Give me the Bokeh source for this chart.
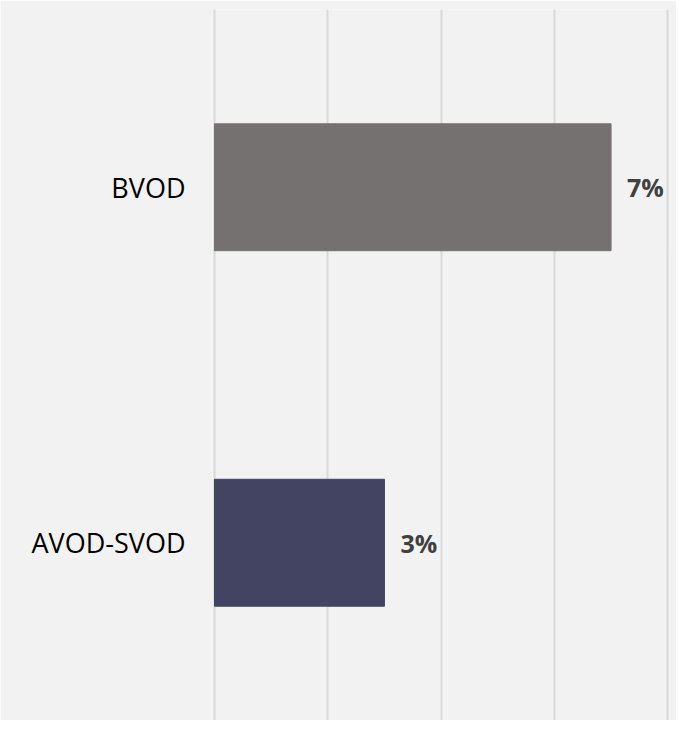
from bokeh.plotting import figure
from bokeh.models import Range1d, FactorRange, ColumnDataSource, FixedTicker
from bokeh.core.properties import value
from bokeh.embed import file_html
from bokeh.resources import INLINE

categories = ["AVOD-SVOD", "BVOD"]
values = [3, 7]
colors = ["#424461", "#767171"]
labels = [f"{v}%" for v in values]
grid_ticks = [0, 2, 4, 6, 8]

src = ColumnDataSource(dict(cat=categories, val=values, color=colors, label=labels))

p = figure(width=676, height=720, output_backend="svg", toolbar_location=None,
           x_range=Range1d(-0.035, 8.155),
           y_range=FactorRange(factors=categories, range_padding=0),
           min_border_left=212, min_border_right=0, min_border_top=9, min_border_bottom=0)
p.background_fill_color = "#f2f2f2"
p.border_fill_color = "#f2f2f2"
p.outline_line_color = None

p.hbar(y="cat", right="val", left=0, height=0.357, color="color", source=src)
p.text(x="val", y="cat", text="label", source=src, x_offset=16,
       text_baseline="middle", text_align="left", text_font=value("Open Sans"),
       text_font_style="bold", text_font_size="25px", text_color="#404040")

p.xaxis.visible = False
p.xaxis.ticker = FixedTicker(ticks=grid_ticks)
p.ygrid.grid_line_color = None
p.xgrid.grid_line_color = "#d9d9d9"
p.xgrid.grid_line_width = 2
p.xgrid.ticker = FixedTicker(ticks=grid_ticks)

p.yaxis.axis_line_color = None
p.yaxis.major_tick_line_color = None
p.yaxis.minor_tick_line_color = None
p.yaxis.major_label_text_font = "Open Sans"
p.yaxis.major_label_text_font_size = "27px"
p.yaxis.major_label_text_color = "#000000"
p.yaxis.major_label_standoff = 21

html = file_html(p, INLINE)
html = html.replace("<body>", '<body style="background:#f2f2f2">', 1)
open("out.html", "w").write(html)
